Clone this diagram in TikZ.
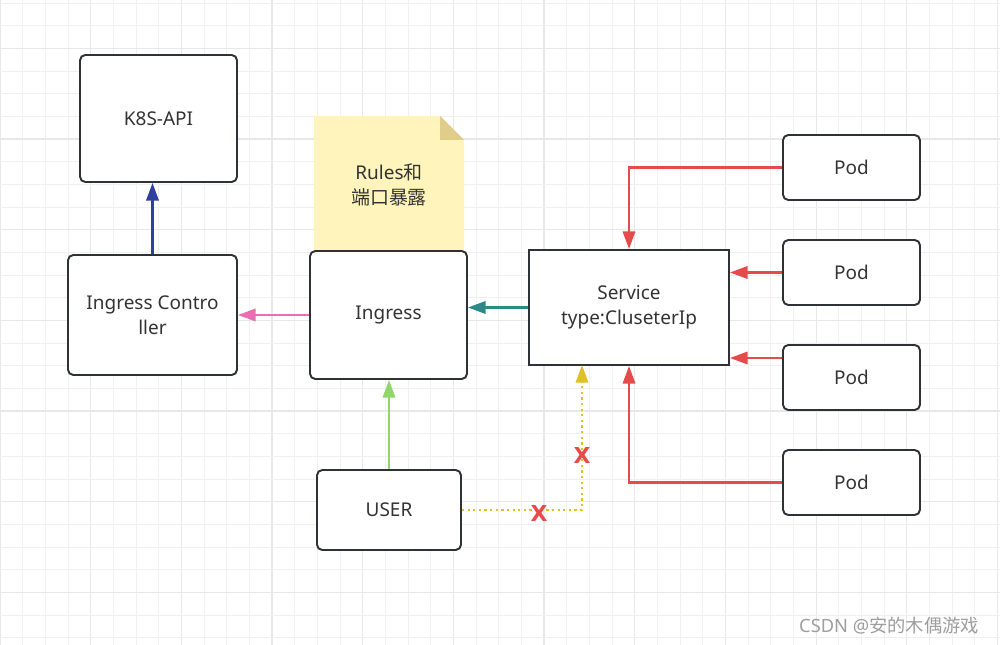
\documentclass[tikz,border=0pt]{standalone}
\usepackage{fontspec}
\setmainfont{Noto Sans}
\newfontfamily\cjk{Noto Sans CJK SC}
\newfontfamily\markfont{DejaVu Sans}
\usepackage{tikz}
\usetikzlibrary{arrows.meta}

\definecolor{boxline}{RGB}{46,49,54}
\definecolor{txt}{RGB}{51,51,51}
\definecolor{gridminor}{RGB}{240,240,240}
\definecolor{gridmajor}{RGB}{232,232,232}
\definecolor{notefill}{RGB}{255,245,188}
\definecolor{notefold}{RGB}{224,205,138}
\definecolor{arrblue}{RGB}{47,64,158}
\definecolor{arrpink}{RGB}{234,110,180}
\definecolor{arrteal}{RGB}{43,138,134}
\definecolor{arrgreen}{RGB}{144,214,104}
\definecolor{arrred}{RGB}{230,75,75}
\definecolor{arryellow}{RGB}{224,192,40}

\begin{document}
\begin{tikzpicture}[x=0.02cm,y=-0.02cm,
	every node/.style={font=\fontsize{10.8}{14.5}\selectfont, text=txt, align=center},
	box/.style={draw=boxline, line width=1.1pt, rounded corners=3pt, fill=white, inner sep=0pt},
	sharpbox/.style={draw=boxline, line width=1.1pt, fill=white, inner sep=0pt},
	podbox/.style={box, minimum width=2.74cm, minimum height=1.3cm},
	link/.style={line width=1.3pt, -{Triangle[length=10pt, width=7pt]}},
	xmark/.style={font=\markfont\bfseries\fontsize{12.5}{13}\selectfont, text=arrred, inner sep=0pt},
	wmark/.style={font=\fontsize{10.4}{12}\selectfont, text=black!38, inner sep=0pt}]

	\useasboundingbox (0,0) rectangle (1000,645);
	\fill[white] (0,0) rectangle (1000,645);

	% grid
	\foreach \i in {0,...,44} {
		\pgfmathtruncatemacro{\maj}{mod(\i,4)==0}
		\ifnum\maj=1
			\draw[gridmajor, line width=0.7pt] ({22.67*\i},0) -- ({22.67*\i},645);
		\else
			\draw[gridminor, line width=0.55pt] ({22.67*\i},0) -- ({22.67*\i},645);
		\fi
	}
	\foreach \j in {0,...,28} {
		\pgfmathtruncatemacro{\maj}{mod(\j,4)==2}
		\ifnum\maj=1
			\draw[gridmajor, line width=0.7pt] (0,{3+22.67*\j}) -- (1000,{3+22.67*\j});
		\else
			\draw[gridminor, line width=0.55pt] (0,{3+22.67*\j}) -- (1000,{3+22.67*\j});
		\fi
	}

	% note
	\fill[notefill] (314,251) -- (314,116) -- (440,116) -- (464,140) -- (464,251) -- cycle;
	\fill[notefold] (440,116) -- (440,140) -- (464,140) -- cycle;
	\node (note) at (389,185) {Rules{\cjk 和}\\{\cjk 端口暴露}};

	% boxes
	\node[box, minimum width=3.14cm, minimum height=2.54cm] (k8s) at (158.5,118.5) {K8S-API};
	\node[box, minimum width=3.38cm, minimum height=2.4cm] (ctrl) at (152.5,315) {Ingress Contro\\ller};
	\node[box, minimum width=3.14cm, minimum height=2.56cm] (ingress) at (388.5,315) {Ingress};
	\node[sharpbox, minimum width=4cm, minimum height=2.3cm] (svc) at (629,307.5) {Service\\type:CluseterIp};
	\node[box, minimum width=2.88cm, minimum height=1.6cm] (user) at (389,510) {USER};
	\node[podbox] (pod1) at (851.5,167.5) {Pod};
	\node[podbox] (pod2) at (851.5,272.5) {Pod};
	\node[podbox] (pod3) at (851.5,377.5) {Pod};
	\node[podbox] (pod4) at (851.5,482.5) {Pod};

	% links
	\draw[link, arrblue] (ctrl.north) -- (ctrl.north |- k8s.south);
	\draw[link, arrpink] (ingress.west) -- (ctrl.east);
	\draw[link, arrteal] (svc.west) -- (svc.west -| ingress.east);
	\draw[link, arrgreen] (user.north) -- (user.north |- ingress.south);
	\coordinate (dotend) at (582,365);
	\draw[link, arryellow, dash pattern=on 1.3pt off 1.9pt] (user.east) -| (dotend);
	\node[xmark] (xa) at (539,513) {X};
	\node[xmark] (xb) at (582,455) {X};
	\draw[link, arrred] (pod1.west) -| (svc.north);
	\draw[link, arrred] (pod2.west) -- (pod2.west -| svc.east);
	\draw[link, arrred] ([yshift=0.39cm]pod3.west) -- ([yshift=0.39cm]pod3.west -| svc.east);
	\draw[link, arrred] (pod4.west) -| (svc.south);

	\node[wmark] (wm) at (889,626) {CSDN @{\cjk 安的木偶游戏}};
\end{tikzpicture}
\end{document}
